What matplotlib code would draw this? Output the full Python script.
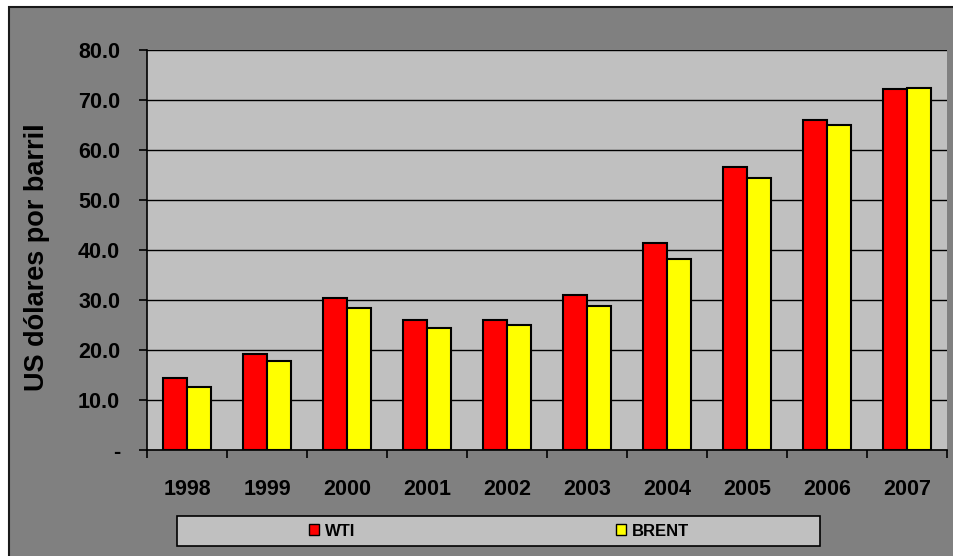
import matplotlib
matplotlib.use('Agg')
import matplotlib.pyplot as plt
from matplotlib.patches import Rectangle, Patch
import numpy as np

years = ['1998', '1999', '2000', '2001', '2002', '2003', '2004', '2005', '2006', '2007']
wti = [14.4, 19.3, 30.4, 26.0, 26.1, 31.1, 41.5, 56.6, 66.0, 72.3]
brent = [12.7, 17.9, 28.5, 24.4, 25.0, 28.8, 38.3, 54.4, 65.1, 72.4]
yticks = [0, 10, 20, 30, 40, 50, 60, 70, 80]
ytick_labels = ['-', '10.0', '20.0', '30.0', '40.0', '50.0', '60.0', '70.0', '80.0']

plt.rcParams['font.family'] = ['Liberation Sans', 'DejaVu Sans']
plt.rcParams['font.weight'] = 'bold'

W, H = 954, 556
fig = plt.figure(figsize=(W / 100, H / 100), dpi=100, facecolor='white')

# gray chart area with border on top/left
fig.patches.append(Rectangle((9.5 / W, -0.01), 1.0, (H - 6.5) / H + 0.01,
                             transform=fig.transFigure, facecolor='#808080',
                             edgecolor='#1a1a1a', linewidth=1.5, zorder=-10))

ax = fig.add_axes([147 / W, (H - 450) / H, 800 / W, 400 / H])
ax.set_facecolor('#c0c0c0')

x = np.arange(len(years))
bw = 0.3
ax.bar(x - bw / 2, wti, bw, color='#ff0000', edgecolor='black', linewidth=1.5, zorder=3)
ax.bar(x + bw / 2, brent, bw, color='#ffff00', edgecolor='black', linewidth=1.5, zorder=3)

ax.set_xlim(-0.5, len(years) - 0.5)
ax.set_ylim(0, 80)
ax.set_yticks(yticks)
ax.set_yticklabels(ytick_labels, fontsize=15.5, fontweight='bold')
ax.yaxis.grid(True, color='black', linewidth=1.0, zorder=1)
ax.set_axisbelow(True)

ax.set_xticks(x)
ax.set_xticklabels(years, fontsize=15.5, fontweight='bold')
ax.tick_params(axis='x', length=0, pad=21)
ax.set_xticks(np.arange(len(years) + 1) - 0.5, minor=True)
ax.tick_params(axis='x', which='minor', length=5.8, width=1.2, color='black')
ax.tick_params(axis='y', length=5.8, width=1.2, pad=13.5)

for s in ['top', 'right']:
    ax.spines[s].set_visible(False)
ax.spines['left'].set_linewidth(1.2)
ax.spines['bottom'].set_linewidth(1.2)

fig.text(37 / W, 1 - 257 / H, 'US dólares por barril', rotation=90,
         fontsize=19.5, fontweight='bold', ha='center', va='center')

# legend box
fig.patches.append(Rectangle((177 / W, 1 - 546 / H), 643 / W, 30 / H,
                             transform=fig.transFigure, facecolor='#c0c0c0',
                             edgecolor='black', linewidth=1.2, zorder=1))
handles = [Patch(facecolor='#ff0000', edgecolor='black'),
           Patch(facecolor='#ffff00', edgecolor='black')]
fig.legend(handles, ['WTI', 'BRENT'], loc='center', ncol=2,
           bbox_to_anchor=(499 / W, 1 - 531 / H), frameon=False,
           prop={'size': 12, 'weight': 'bold'}, handlelength=0.6,
           handleheight=0.6, handletextpad=0.35, columnspacing=15.6)

fig.savefig('out.png', dpi=100, facecolor=fig.get_facecolor())
